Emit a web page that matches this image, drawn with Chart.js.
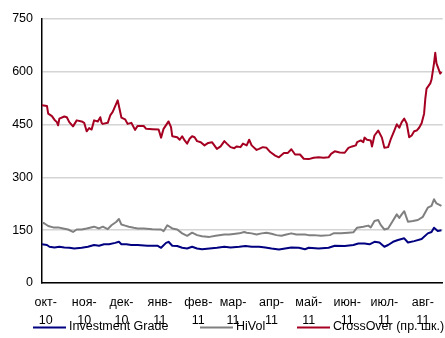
<!DOCTYPE html>
<html>
<head>
<meta charset="utf-8">
<script src="https://cdn.jsdelivr.net/npm/chart.js@4"></script>
<style>
  html, body { margin: 0; padding: 0; background: #fff; }
  #wrap { width: 445px; height: 338px; }
</style>
</head>
<body>
<div id="wrap"><canvas id="c" width="445" height="338"></canvas></div>
<script>
// Month ticks on the time axis
const monthStarts = ['2010-10-01','2010-11-01','2010-12-01','2011-01-01','2011-02-01','2011-03-01',
                     '2011-04-01','2011-05-01','2011-06-01','2011-07-01','2011-08-01'];
const monthNames = ['окт-','ноя-','дек-','янв-','фев-','мар-','апр-','май-','июн-','июл-','авг-'];
const yearNames  = ['10','10','10','11','11','11','11','11','11','11','11'];
const yTicks = [0, 150, 300, 450, 600, 750];

// Investment Grade (bp)
const igDates = ['2010-09-28','2010-10-02','2010-10-04','2010-10-08','2010-10-12','2010-10-16','2010-10-20',
  '2010-10-24','2010-10-30','2010-11-04','2010-11-09','2010-11-13','2010-11-17','2010-11-21','2010-11-26',
  '2010-11-29','2010-12-01','2010-12-05','2010-12-09','2010-12-14','2010-12-22','2010-12-30','2011-01-02',
  '2011-01-06','2011-01-08','2011-01-11','2011-01-15','2011-01-19','2011-01-23','2011-01-27','2011-01-31',
  '2011-02-04','2011-02-10','2011-02-16','2011-02-22','2011-02-27','2011-03-06','2011-03-11','2011-03-16',
  '2011-03-22','2011-03-27','2011-04-01','2011-04-07','2011-04-12','2011-04-17','2011-04-23','2011-04-28',
  '2011-05-01','2011-05-09','2011-05-17','2011-05-22','2011-05-30','2011-06-06','2011-06-10','2011-06-15',
  '2011-06-19','2011-06-23','2011-06-27','2011-07-01','2011-07-04','2011-07-08','2011-07-12','2011-07-17',
  '2011-07-20','2011-07-25','2011-07-31','2011-08-05','2011-08-08','2011-08-10','2011-08-13','2011-08-16'];
const igValues = [110,108,103,101,103,101,100,
  98,100,103,108,106,110,110,114,
  117,110,110,108,108,106,106,100,
  114,117,106,105,100,98,103,98,
  96,98,100,103,101,103,105,103,
  103,101,98,95,98,101,100,96,
  100,98,100,106,105,108,112,112,
  110,117,115,103,108,117,122,127,
  115,119,125,141,145,157,148,150];

// HiVol (bp)
const hvDates = ['2010-09-28','2010-09-30','2010-10-03','2010-10-07','2010-10-11','2010-10-15','2010-10-19',
  '2010-10-23','2010-10-26','2010-10-30','2010-11-03','2010-11-09','2010-11-13','2010-11-16','2010-11-20',
  '2010-11-23','2010-11-27','2010-11-29','2010-12-01','2010-12-04','2010-12-07','2010-12-11','2010-12-14',
  '2010-12-19','2010-12-26','2011-01-02','2011-01-04','2011-01-07','2011-01-11','2011-01-15','2011-01-19',
  '2011-01-23','2011-01-27','2011-01-31','2011-02-04','2011-02-10','2011-02-15','2011-02-22','2011-02-26',
  '2011-03-03','2011-03-06','2011-03-10','2011-03-12','2011-03-16','2011-03-20','2011-03-24','2011-03-28',
  '2011-04-01','2011-04-05','2011-04-09','2011-04-13','2011-04-17','2011-04-21','2011-04-25','2011-04-28',
  '2011-05-01','2011-05-05','2011-05-11','2011-05-18','2011-05-21','2011-05-27','2011-06-02','2011-06-06',
  '2011-06-09','2011-06-14','2011-06-18','2011-06-20','2011-06-23','2011-06-26','2011-06-28','2011-07-01',
  '2011-07-04','2011-07-07','2011-07-11','2011-07-13','2011-07-15','2011-07-17','2011-07-20','2011-07-24',
  '2011-07-28','2011-08-01','2011-08-05','2011-08-08','2011-08-10','2011-08-12','2011-08-16'];
const hvValues = [172,169,162,158,158,155,152,
  145,152,152,155,160,155,160,153,
  164,174,182,166,163,160,157,155,
  155,153,152,147,164,155,152,141,
  134,143,136,133,131,134,138,138,
  140,141,145,143,141,138,141,143,
  140,136,134,138,141,138,138,138,
  136,136,134,136,141,141,143,144,
  157,160,163,158,176,179,165,152,
  155,172,195,185,195,204,174,176,
  179,188,214,219,238,226,219];

// CrossOver (bp, right scale)
const coDates = ['2010-09-28','2010-10-02','2010-10-03','2010-10-06','2010-10-08','2010-10-10','2010-10-11',
  '2010-10-12','2010-10-16','2010-10-18','2010-10-20','2010-10-23','2010-10-26','2010-10-30','2010-11-01',
  '2010-11-03','2010-11-05','2010-11-07','2010-11-09','2010-11-12','2010-11-14','2010-11-15','2010-11-16',
  '2010-11-20','2010-11-22','2010-11-24','2010-11-28','2010-12-01','2010-12-04','2010-12-06','2010-12-09',
  '2010-12-12','2010-12-14','2010-12-19','2010-12-21','2010-12-26','2010-12-31','2011-01-02','2011-01-04',
  '2011-01-08','2011-01-10','2011-01-11','2011-01-15','2011-01-17','2011-01-19','2011-01-21','2011-01-23',
  '2011-01-25','2011-01-27','2011-01-29','2011-01-31','2011-02-03','2011-02-06','2011-02-09','2011-02-12',
  '2011-02-16','2011-02-19','2011-02-22','2011-02-24','2011-02-27','2011-03-02','2011-03-04','2011-03-07',
  '2011-03-09','2011-03-12','2011-03-14','2011-03-16','2011-03-20','2011-03-22','2011-03-25','2011-03-28',
  '2011-03-31','2011-04-04','2011-04-07','2011-04-11','2011-04-14','2011-04-17','2011-04-20','2011-04-24',
  '2011-04-27','2011-05-01','2011-05-05','2011-05-09','2011-05-13','2011-05-17','2011-05-19','2011-05-22',
  '2011-05-26','2011-05-30','2011-06-02','2011-06-05','2011-06-08','2011-06-09','2011-06-12','2011-06-14',
  '2011-06-15','2011-06-17','2011-06-20','2011-06-21','2011-06-23','2011-06-26','2011-06-29','2011-07-01',
  '2011-07-04','2011-07-06','2011-07-09','2011-07-11','2011-07-13','2011-07-15','2011-07-17','2011-07-19',
  '2011-07-21','2011-07-23','2011-07-25','2011-07-27','2011-07-29','2011-07-31','2011-08-02','2011-08-03',
  '2011-08-04','2011-08-07','2011-08-08','2011-08-10','2011-08-11','2011-08-12','2011-08-14','2011-08-15',
  '2011-08-16'];
const coValues = [505,503,481,474,464,457,448,
  467,473,471,457,445,462,459,455,
  431,440,436,462,459,471,455,452,
  455,476,486,519,470,465,452,455,
  435,446,446,438,437,436,413,438,
  459,443,417,414,407,417,405,396,
  410,417,414,403,400,391,398,400,
  381,388,403,396,386,383,388,386,
  396,391,407,391,378,381,386,384,
  372,362,357,369,369,380,365,365,
  353,352,356,357,356,357,367,374,
  371,370,384,388,391,400,405,400,
  413,407,405,388,419,433,413,384,
  386,407,433,451,441,457,467,453,
  414,419,431,433,441,454,481,524,
  552,567,578,624,654,624,605,595,
  600];

const ORIGIN = Date.parse('2010-10-01');
const dayOf = s => (Date.parse(s) - ORIGIN) / 86400000;
const toPoints = (dates, vals) => dates.map((d, i) => ({ x: dayOf(d), y: vals[i] }));
const monthTickDays = monthStarts.map(dayOf);

const FONT = '"Liberation Sans", Arial, sans-serif';

// Legend drawn in the band under the axis, over the second row of month labels
const bottomLegend = {
  id: 'bottomLegend',
  afterDraw(chart) {
    const ctx = chart.ctx;
    const items = [33, 200, 297];
    const y = 327.5;
    ctx.save();
    ctx.font = '12.5px ' + FONT;
    ctx.textBaseline = 'middle';
    ctx.textAlign = 'left';
    chart.data.datasets.forEach((ds, i) => {
      const x = items[i];
      ctx.strokeStyle = ds.borderColor;
      ctx.lineWidth = 2;
      ctx.beginPath();
      ctx.moveTo(x, y);
      ctx.lineTo(x + 33, y);
      ctx.stroke();
      ctx.fillStyle = '#000';
      ctx.fillText(ds.label, x + 36, y - 0.5);
    });
    ctx.restore();
  }
};

new Chart(document.getElementById('c'), {
  type: 'line',
  data: {
    datasets: [
      { label: 'Investment Grade', data: toPoints(igDates, igValues), borderColor: '#000080' },
      { label: 'HiVol', data: toPoints(hvDates, hvValues), borderColor: '#808080' },
      { label: 'CrossOver (пр. шк.)', data: toPoints(coDates, coValues), borderColor: '#A50021' }
    ]
  },
  options: {
    responsive: false,
    animation: false,
    devicePixelRatio: 1,
    layout: { padding: { top: 19, right: 0, left: 0, bottom: 0 } },
    elements: {
      point: { radius: 0 },
      line: { borderWidth: 2, tension: 0, borderJoinStyle: 'round' }
    },
    plugins: { legend: { display: false }, tooltip: { enabled: false } },
    scales: {
      x: {
        type: 'linear',
        min: -3,
        max: 320,
        afterBuildTicks: s => { s.ticks = monthTickDays.map(v => ({ value: v })); },
        afterFit: s => { s.height = 55; },
        grid: { display: false, drawTicks: false },
        border: { color: '#000', width: 1.5 },
        ticks: {
          autoSkip: false,
          maxRotation: 0,
          padding: 11,
          color: '#000',
          font: { family: FONT, size: 12.5, lineHeight: '18px' },
          callback: v => {
            const i = monthTickDays.indexOf(v);
            return i < 0 ? '' : [monthNames[i], yearNames[i]];
          }
        }
      },
      y: {
        min: 0,
        max: 750,
        afterBuildTicks: s => { s.ticks = yTicks.map(v => ({ value: v })); },
        afterFit: s => { s.width = 42; },
        grid: { color: '#d4d4d4', lineWidth: 1.5, drawTicks: false },
        border: { color: '#000', width: 1.5 },
        ticks: {
          padding: 9,
          color: '#000',
          font: { family: FONT, size: 12.5 }
        }
      }
    }
  },
  plugins: [bottomLegend]
});
</script>
</body>
</html>
